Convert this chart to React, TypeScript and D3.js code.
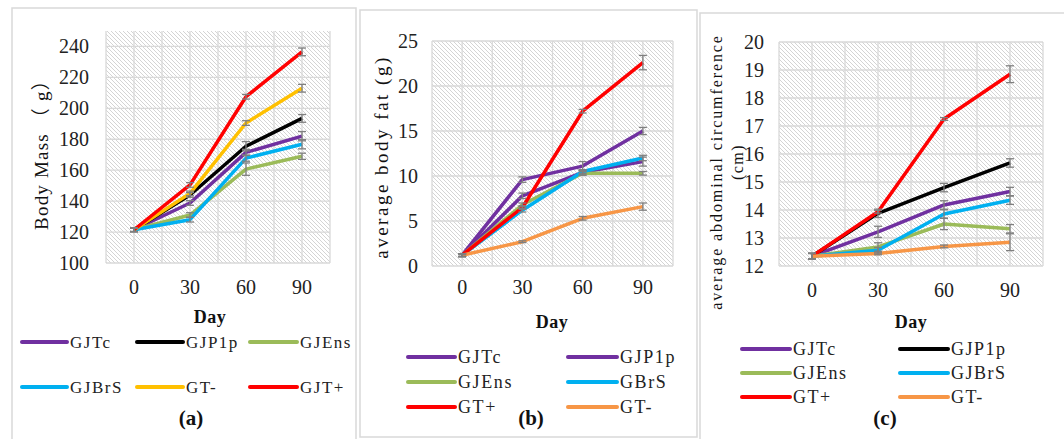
import React, { useEffect, useRef } from 'react';
import * as d3 from 'd3';

const days = ['0', '30', '60', '90'];

// (a) body mass, g
const massTicks = [100, 120, 140, 160, 180, 200, 220, 240];
const massGJTc = [121.5, 138.8, 171.5, 182];
const massGJP1p = [121.5, 144, 175.5, 193.5];
const massGJEns = [121.5, 131, 160.7, 169];
const massGJBrS = [121.5, 128, 167.8, 176.8];
const massGTminus = [121.5, 145, 190.5, 213];
const massGJTplus = [121.5, 150.5, 207.5, 236.5];
const massErrGJTc = [1.2, 1.5, 2, 3];
const massErrGJP1p = [1.2, 1.5, 3, 2.5];
const massErrGJEns = [1.2, 1.5, 4, 2];
const massErrGJBrS = [1.2, 1.5, 2, 3];
const massErrGTminus = [1.2, 1.5, 1.5, 2.5];
const massErrGJTplus = [1.2, 1.5, 1.5, 2.5];

// (b) average body fat, g
const fatTicks = [0, 5, 10, 15, 20, 25];
const fatGJTc = [1.2, 9.6, 11.1, 15.0];
const fatGJP1p = [1.2, 7.8, 10.4, 11.6];
const fatGJEns = [1.2, 6.8, 10.3, 10.3];
const fatGBrS = [1.2, 6.2, 10.5, 12.0];
const fatGTplus = [1.2, 6.5, 17.2, 22.6];
const fatGTminus = [1.2, 2.7, 5.3, 6.6];
const fatErrGJTc = [0.15, 0.3, 0.5, 0.4];
const fatErrGJP1p = [0.15, 0.3, 0.3, 0.5];
const fatErrGJEns = [0.15, 0.2, 0.2, 0.2];
const fatErrGBrS = [0.15, 0.2, 0.2, 0.3];
const fatErrGTplus = [0.15, 0.2, 0.2, 0.8];
const fatErrGTminus = [0.15, 0.1, 0.2, 0.4];

// (c) average abdominal circumference, cm
const waistTicks = [12, 13, 14, 15, 16, 17, 18, 19, 20];
const waistGJTc = [12.35, 13.22, 14.18, 14.66];
const waistGJP1p = [12.35, 13.88, 14.8, 15.68];
const waistGJEns = [12.35, 12.68, 13.5, 13.33];
const waistGJBrS = [12.35, 12.56, 13.86, 14.35];
const waistGTplus = [12.35, 13.94, 17.25, 18.85];
const waistGTminus = [12.35, 12.45, 12.7, 12.85];
const waistErrGJTc = [0.1, 0.2, 0.15, 0.15];
const waistErrGJP1p = [0.1, 0.15, 0.15, 0.15];
const waistErrGJEns = [0.1, 0.15, 0.2, 0.15];
const waistErrGJBrS = [0.1, 0.1, 0.15, 0.15];
const waistErrGTplus = [0.1, 0.05, 0.05, 0.3];
const waistErrGTminus = [0.1, 0.05, 0.05, 0.3];

const PURPLE = '#7030a0', BLACK = '#000000', GREEN = '#9bbb59', CYAN = '#00b0f0';
const YELLOW = '#ffc000', RED = '#ff0000', ORANGE = '#f79646';

const serif = '"Liberation Serif", "Times New Roman", "Noto Sans CJK SC", serif';

const panels = [
  {
    frame: [12, 8, 344, 440], plot: [106, 31, 330, 263], domain: [100, 250], ticks: massTicks,
    tickRight: 89, tickY: 294,
    titles: [{ text: 'Body Mass （ g）', x: 48, y: 150, size: 19, ls: 1.2 }],
    day: [210, 323], tag: [191, 425, '(a)'],
    legend: { rows: [342, 387], cols: [[22, 67], [137, 183], [250, 297]], size: 17, ls: 1.5, perRow: 3 },
    series: [
      { name: 'GJTc', color: PURPLE, v: massGJTc, e: massErrGJTc },
      { name: 'GJP1p', color: BLACK, v: massGJP1p, e: massErrGJP1p },
      { name: 'GJEns', color: GREEN, v: massGJEns, e: massErrGJEns },
      { name: 'GJBrS', color: CYAN, v: massGJBrS, e: massErrGJBrS },
      { name: 'GT-', color: YELLOW, v: massGTminus, e: massErrGTminus },
      { name: 'GJT+', color: RED, v: massGJTplus, e: massErrGJTplus },
    ],
  },
  {
    frame: [360, 10, 337, 427], plot: [432, 41, 673, 266], domain: [0, 25], ticks: fatTicks,
    tickRight: 418, tickY: 294,
    titles: [{ text: 'average body fat (g)', x: 388, y: 157, size: 19, ls: 2.5 }],
    day: [552, 328], tag: [531, 425, '(b)'],
    legend: { rows: [357, 382, 407], cols: [[408, 455], [568, 617]], size: 18, ls: 1.6, perRow: 2 },
    series: [
      { name: 'GJTc', color: PURPLE, v: fatGJTc, e: fatErrGJTc },
      { name: 'GJP1p', color: PURPLE, v: fatGJP1p, e: fatErrGJP1p },
      { name: 'GJEns', color: GREEN, v: fatGJEns, e: fatErrGJEns },
      { name: 'GBrS', color: CYAN, v: fatGBrS, e: fatErrGBrS },
      { name: 'GT+', color: RED, v: fatGTplus, e: fatErrGTplus },
      { name: 'GT-', color: ORANGE, v: fatGTminus, e: fatErrGTminus },
    ],
  },
  {
    frame: [700, 13, 380, 440], plot: [779, 42, 1043, 266], domain: [12, 20], ticks: waistTicks,
    tickRight: 764, tickY: 297,
    titles: [
      { text: 'average abdominal circumference', x: 722, y: 172, size: 16, ls: 1.9 },
      { text: '(cm)', x: 743, y: 162, size: 16, ls: 1.5 },
    ],
    day: [911, 328], tag: [885, 425, '(c)'],
    legend: { rows: [349, 373, 397], cols: [[742, 790], [900, 948]], size: 18, ls: 1.5, perRow: 2 },
    series: [
      { name: 'GJTc', color: PURPLE, v: waistGJTc, e: waistErrGJTc },
      { name: 'GJP1p', color: BLACK, v: waistGJP1p, e: waistErrGJP1p },
      { name: 'GJEns', color: GREEN, v: waistGJEns, e: waistErrGJEns },
      { name: 'GJBrS', color: CYAN, v: waistGJBrS, e: waistErrGJBrS },
      { name: 'GT+', color: RED, v: waistGTplus, e: waistErrGTplus },
      { name: 'GT-', color: ORANGE, v: waistGTminus, e: waistErrGTminus },
    ],
  },
];

export default function App() {
  const svgRef = useRef<SVGSVGElement>(null);
  const W = 1064, H = 439;

  useEffect(() => {
    const svg = d3.select(svgRef.current);
    svg.selectAll('*').remove();

    // hatch fill of the plot areas
    const pat = svg.append('defs').append('pattern')
      .attr('id', 'hatch').attr('patternUnits', 'userSpaceOnUse')
      .attr('width', 4).attr('height', 4);
    pat.append('rect').attr('width', 4).attr('height', 4).attr('fill', '#fff');
    pat.append('path').attr('d', 'M-1,-1 L5,5 M-1,3 L1,5 M3,-1 L5,1')
      .attr('stroke', '#d4d4d4').attr('stroke-width', 1);

    svg.append('rect').attr('width', W).attr('height', H).attr('fill', '#fff');

    for (const p of panels) {
      const g = svg.append('g');
      const [fx, fy, fw, fh] = p.frame;
      g.append('rect').attr('x', fx).attr('y', fy).attr('width', fw).attr('height', fh)
        .attr('fill', '#fff').attr('stroke', '#d9d9d9').attr('stroke-width', 1.5);

      const [l, t, r, b] = p.plot;
      const x = d3.scaleBand().domain(days).range([l, r]).padding(0);
      const y = d3.scaleLinear().domain(p.domain).range([b, t]);
      const cx = (d: string) => (x(d) as number) + x.bandwidth() / 2;

      g.append('rect').attr('x', l).attr('y', t).attr('width', r - l).attr('height', b - t)
        .attr('fill', 'url(#hatch)');

      // grid: horizontal at ticks, vertical at band edges and centres
      g.selectAll('.hg').data(p.ticks).join('line')
        .attr('x1', l).attr('x2', r).attr('y1', d => y(d)).attr('y2', d => y(d))
        .attr('stroke', '#d9d9d9').attr('stroke-width', 1.3);
      const vx: number[] = [];
      days.forEach(d => { vx.push(x(d) as number, cx(d)); });
      vx.push(r);
      g.selectAll('.vg').data(vx).join('line')
        .attr('x1', d => d).attr('x2', d => d).attr('y1', t).attr('y2', b)
        .attr('stroke', '#d9d9d9').attr('stroke-width', 1.3);

      // tick labels
      g.selectAll('.yt').data(p.ticks).join('text')
        .attr('x', p.tickRight).attr('y', d => y(d)).attr('dy', '0.35em')
        .attr('text-anchor', 'end').attr('font-family', serif).attr('font-size', 20)
        .attr('fill', '#222').text(d => d);
      g.selectAll('.xt').data(days).join('text')
        .attr('x', d => cx(d)).attr('y', p.tickY)
        .attr('text-anchor', 'middle').attr('font-family', serif).attr('font-size', 20)
        .attr('fill', '#222').text(d => d);

      // axis titles
      for (const tt of p.titles) {
        g.append('text').attr('transform', `translate(${tt.x},${tt.y}) rotate(-90)`)
          .attr('text-anchor', 'middle').attr('font-family', serif).attr('font-size', tt.size)
          .attr('letter-spacing', tt.ls).attr('fill', '#111').text(tt.text);
      }
      g.append('text').attr('x', p.day[0]).attr('y', p.day[1]).attr('text-anchor', 'middle')
        .attr('font-family', serif).attr('font-weight', 'bold').attr('font-size', 18)
        .attr('letter-spacing', 0.5).attr('fill', '#111').text('Day');
      g.append('text').attr('x', p.tag[0]).attr('y', p.tag[1]).attr('text-anchor', 'middle')
        .attr('font-family', serif).attr('font-weight', 'bold').attr('font-size', 21)
        .attr('fill', '#111').text(p.tag[2] as string);

      // series lines
      const line = d3.line<number>().x((_, i) => cx(days[i])).y(d => y(d));
      for (const s of p.series) {
        g.append('path').attr('d', line(s.v)).attr('fill', 'none')
          .attr('stroke', s.color).attr('stroke-width', 3.5).attr('stroke-linejoin', 'round');
      }
      // error bars
      for (const s of p.series) {
        s.v.forEach((v, i) => {
          const px = cx(days[i]);
          const y0 = y(v - s.e[i]), y1 = y(v + s.e[i]);
          const eb = g.append('g').attr('stroke', '#7f7f7f').attr('stroke-width', 1.3);
          eb.append('line').attr('x1', px).attr('x2', px).attr('y1', y0).attr('y2', y1);
          eb.append('line').attr('x1', px - 4).attr('x2', px + 4).attr('y1', y0).attr('y2', y0);
          eb.append('line').attr('x1', px - 4).attr('x2', px + 4).attr('y1', y1).attr('y2', y1);
        });
      }

      // legend
      p.series.forEach((s, i) => {
        const row = Math.floor(i / p.legend.perRow), col = i % p.legend.perRow;
        const ly = p.legend.rows[row];
        const [x0, x1] = p.legend.cols[col];
        g.append('line').attr('x1', x0).attr('x2', x1).attr('y1', ly).attr('y2', ly)
          .attr('stroke', s.color).attr('stroke-width', 4).attr('stroke-linecap', 'round');
        g.append('text').attr('x', x1 + 3).attr('y', ly).attr('dy', '0.35em')
          .attr('font-family', serif).attr('font-size', p.legend.size)
          .attr('letter-spacing', p.legend.ls).attr('fill', '#222').text(s.name);
      });
    }
  }, []);

  return (
    <svg ref={svgRef} width={W} height={H} viewBox={`0 0 ${W} ${H}`}
      style={{ position: 'absolute', left: 0, top: 0, display: 'block' }} />
  );
}
